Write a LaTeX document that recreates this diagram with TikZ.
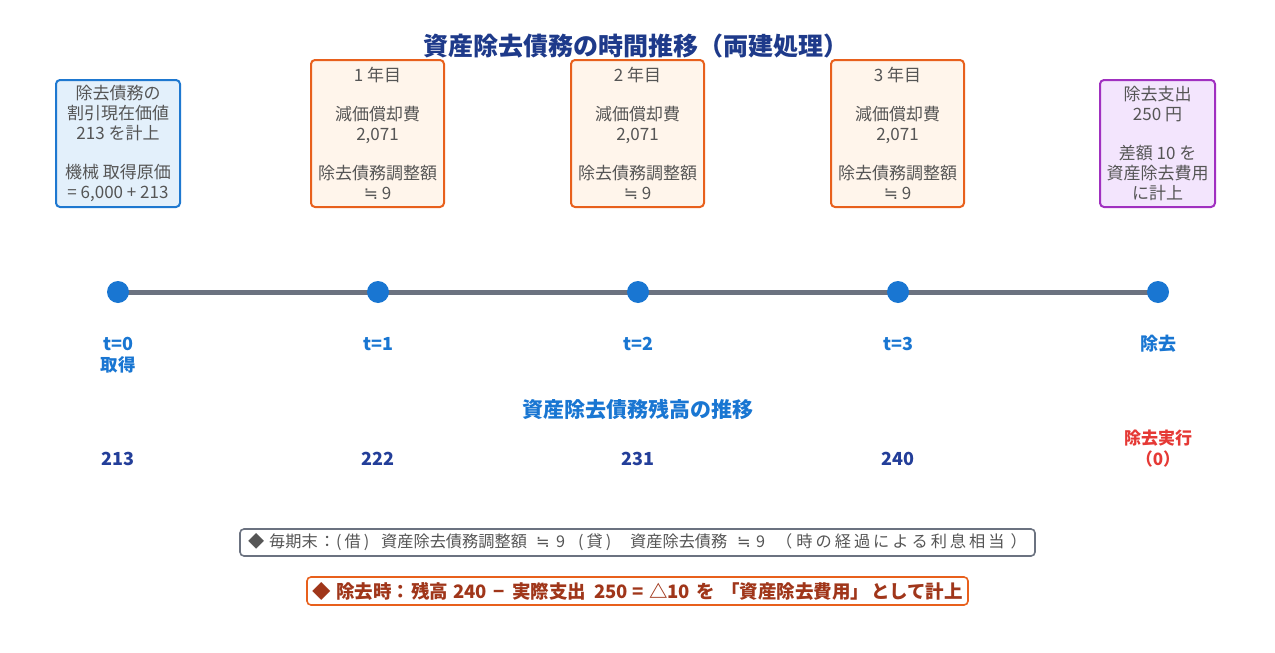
\documentclass[tikz,border=0pt]{standalone}
\usepackage{fontspec}
\setmainfont{Noto Sans CJK JP}
\newfontfamily\dejavu{DejaVu Sans}
\newcommand\nearlyeq{{\dejavu ≒}}
\newcommand\ls{\hspace{3pt}}
\newcommand\pc[3][l]{\makebox[#2][#1]{#3}}
\definecolor{titleblue}{HTML}{1E3A8A}
\definecolor{tblue}{HTML}{1976D2}
\definecolor{valblue}{HTML}{233E99}
\definecolor{txtgray}{HTML}{555555}
\definecolor{linegray}{HTML}{6B7280}
\definecolor{lbfill}{HTML}{E3F0FB}
\definecolor{lbdraw}{HTML}{1E78D0}
\definecolor{orfill}{HTML}{FFF5EB}
\definecolor{ordraw}{HTML}{E8601C}
\definecolor{pufill}{HTML}{F3E5FD}
\definecolor{pudraw}{HTML}{A030C0}
\definecolor{redtxt}{HTML}{E53935}
\definecolor{browntxt}{HTML}{A0361A}
\tikzset{
  infobox/.style={draw, line width=2pt, rounded corners=4pt, align=center, inner sep=0pt,
    text=txtgray, font={\fontsize{17}{19.7}\selectfont}},
  bluebox/.style={infobox, draw=lbdraw, fill=lbfill, minimum width=124pt, minimum height=127pt},
  yearbox/.style={infobox, draw=ordraw, fill=orfill, minimum width=133pt, minimum height=147pt},
  purplebox/.style={infobox, draw=pudraw, fill=pufill, minimum width=115pt, minimum height=127pt},
  dot/.style={circle, fill=tblue, minimum size=22pt, inner sep=0pt},
  tlabel/.style={text=tblue, font={\fontsize{18}{22}\selectfont\bfseries}, align=center, anchor=north},
  vlabel/.style={text=valblue, font={\fontsize{18}{22}\selectfont\bfseries}},
  notebox/.style={draw, rounded corners=4pt, line width=1.6pt, fill=white, inner xsep=0pt, inner ysep=3pt}
}
\begin{document}
\begin{tikzpicture}[x=1pt,y=-1pt]
\useasboundingbox (0,0) rectangle (1275,653);
\node[text=titleblue, font={\fontsize{25}{28}\selectfont\bfseries}] (title) at (636,46) {資産除去債務の時間推移（両建処理）};

\node[bluebox] (b0) at (118,143.5) {除去債務の\\割引現在価値\\213 を計上\\[19.7pt]機械 取得原価\\= 6,000 + 213};
\node[yearbox] (b1) at (377.5,133.5) {1 年目\\[19.7pt]減価償却費\\2,071\\[19.7pt]除去債務調整額\\\nearlyeq{} 9};
\node[yearbox] (b2) at (637.5,133.5) {2 年目\\[19.7pt]減価償却費\\2,071\\[19.7pt]除去債務調整額\\\nearlyeq{} 9};
\node[yearbox] (b3) at (897.5,133.5) {3 年目\\[19.7pt]減価償却費\\2,071\\[19.7pt]除去債務調整額\\\nearlyeq{} 9};
\node[purplebox] (b4) at (1157.5,143.5) {除去支出\\250 円\\[19.7pt]差額 10 を\\資産除去費用\\に計上};

\coordinate (c0) at (118,292);
\coordinate (c1) at (378,292);
\coordinate (c2) at (638,292);
\coordinate (c3) at (898,292);
\coordinate (c4) at (1158,292);
\draw[linegray, line width=5pt] (c0) -- (c1) -- (c2) -- (c3) -- (c4);
\foreach \i in {0,...,4} { \node[dot] (d\i) at (c\i) {}; }

\node[tlabel] (l0) at (118,334) {t=0\\[-1pt]{\fontsize{17.5}{20}\selectfont 取得}};
\node[tlabel] (l1) at (378,334) {t=1};
\node[tlabel] (l2) at (638,334) {t=2};
\node[tlabel] (l3) at (898,334) {t=3};
\node[tlabel] (l4) at (1158,332) {除去};

\node[text=tblue, font={\fontsize{21}{24}\selectfont\bfseries}] (sub) at (638,409) {資産除去債務残高の推移};

\node[vlabel] (v0) at (118,459) {213};
\node[vlabel] (v1) at (378,459) {222};
\node[vlabel] (v2) at (638,459) {231};
\node[vlabel] (v3) at (898,459) {240};
\node[text=redtxt, font={\fontsize{17}{21}\selectfont\bfseries}, align=center] (v4) at (1158,449) {除去実行\\（0）};

\node[notebox, draw=linegray, text=txtgray, font={\fontsize{16.2}{19}\selectfont}, minimum width=795pt, minimum height=27pt] (n1) at (637.5,542.5) {\pc{21pt}{◆}\pc{49pt}{毎期末}\pc[c]{18pt}{：}\pc{45pt}{(\hspace{3pt}借\hspace{3pt})}\pc{155pt}{資産除去債務調整額}\pc{20pt}{\nearlyeq}\pc{22pt}{9}\pc{52pt}{(\hspace{3pt}貸\hspace{3pt})}\pc{107pt}{資産除去債務}\pc{19pt}{\nearlyeq}\pc{20pt}{9}（\hspace{4pt}時\ls の\ls 経\ls 過\ls に\ls よ\ls る\ls 利\ls 息\ls 相\ls 当\hspace{6pt}）};
\node[notebox, draw=ordraw, text=browntxt, font={\fontsize{18.5}{21}\selectfont\bfseries}, minimum width=661pt, minimum height=28pt] (n2) at (637.5,591) {\pc{24pt}{◆}\pc{75pt}{除去時：}\pc{42pt}{残高}\pc{34pt}{240}\pc[c]{25pt}{−}\pc{82pt}{実際支出}\pc{38pt}{250}\pc{17pt}{=}\pc{47pt}{△10}\pc{25pt}{を}\pc{150pt}{「資産除去費用」}として計上};
\end{tikzpicture}
\end{document}
